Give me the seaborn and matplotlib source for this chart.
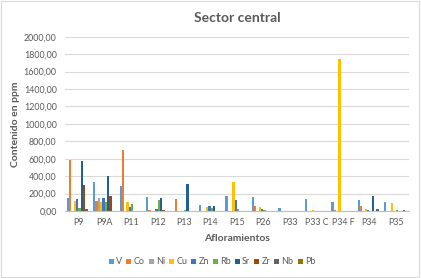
import matplotlib
matplotlib.use("Agg")
import matplotlib.pyplot as plt
import seaborn as sns
import pandas as pd
from matplotlib.ticker import FuncFormatter
from matplotlib.patches import Rectangle

categories = ["P9", "P9A", "P11", "P12", "P13", "P14", "P15", "P26", "P33", "P33 C", "P34 F", "P34", "P35"]
elements = ["V", "Co", "Ni", "Cu", "Zn", "Rb", "Sr", "Zr", "Nb", "Pb"]
V  = [146, 333, 291, 161, 0, 73, 174, 157, 31, 136, 103, 121, 103]
Co = [590, 115, 705, 11, 142, 0, 0, 57, 0, 0, 11, 57, 0]
Ni = [0, 150, 0, 0, 0, 0, 0, 0, 0, 0, 0, 0, 0]
Cu = [111, 107, 100, 0, 0, 46, 333, 50, 0, 11, 1743, 27, 92]
Zn = [142, 150, 42, 23, 0, 57, 121, 23, 0, 0, 0, 15, 0]
Rb = [38, 103, 84, 130, 11, 38, 23, 10, 0, 0, 0, 0, 8]
Sr = [575, 402, 0, 153, 306, 57, 0, 0, 0, 0, 0, 172, 0]
Zr = [299, 176, 0, 11, 0, 0, 0, 0, 0, 0, 0, 0, 0]
Nb = [23, 0, 0, 0, 0, 0, 0, 0, 0, 0, 0, 23, 10]
Pb = [0, 0, 0, 0, 0, 0, 0, 0, 0, 0, 0, 0, 0]
series = [V, Co, Ni, Cu, Zn, Rb, Sr, Zr, Nb, Pb]
colors = ["#5B9BD5", "#ED7D31", "#A5A5A5", "#FFC000", "#4472C4",
          "#70AD47", "#255E91", "#9E480E", "#636363", "#997300"]

rows = []
for el, vals in zip(elements, series):
    for c, v in zip(categories, vals):
        rows.append({"Afloramiento": c, "Elemento": el, "ppm": v})
df = pd.DataFrame(rows)

sns.set_theme(style="white")
plt.rcParams["font.family"] = ["Lato", "DejaVu Sans"]

fig = plt.figure(figsize=(4.21, 2.78), dpi=100)
ax = fig.add_axes([65/421, 1-211/278, (409-65)/421, (211-36.7)/278])

sns.barplot(data=df, x="Afloramiento", y="ppm", hue="Elemento", order=categories,
            hue_order=elements, palette=colors, width=0.88, ax=ax,
            saturation=1, linewidth=0, legend=True)

ax.set_ylim(0, 2000)
ax.set_yticks(range(0, 2001, 200))
ax.yaxis.set_major_formatter(FuncFormatter(lambda v, p: f"{v:.2f}".replace(".", ",")))
ax.grid(axis="y", color="#D9D9D9", linewidth=0.8)
ax.set_axisbelow(True)
for s in ["top", "right", "left"]:
    ax.spines[s].set_visible(False)
ax.spines["bottom"].set_color("#BFBFBF")
ax.spines["bottom"].set_linewidth(0.8)
ax.tick_params(axis="y", length=0, labelsize=6.4, colors="#595959", pad=6)
ax.tick_params(axis="x", length=0, labelsize=6.4, colors="#595959", pad=5)
ax.set_xlabel("Afloramientos", fontsize=7.5, fontweight="bold", color="#595959", labelpad=5)
ax.set_ylabel("Contenido en ppm", fontsize=7.5, fontweight="bold", color="#595959", labelpad=3)

fig.text(237/421, 1-18/278, "Sector central", ha="center", va="center",
         fontsize=10, fontweight="bold", color="#595959")

handles, labels = ax.get_legend_handles_labels()
ax.legend_.remove()
fig.legend(handles, labels, loc="center", bbox_to_anchor=(212/421, 1-262/278),
           ncol=10, frameon=False, fontsize=6.5, handlelength=0.55, handleheight=0.55,
           handletextpad=0.25, columnspacing=0.45, labelcolor="#595959")

fig.patches.append(Rectangle((0.002, 0.003), 0.994, 0.992, transform=fig.transFigure,
                             fill=False, edgecolor="#D9D9D9", linewidth=0.8))

fig.savefig("out.png", dpi=100)
